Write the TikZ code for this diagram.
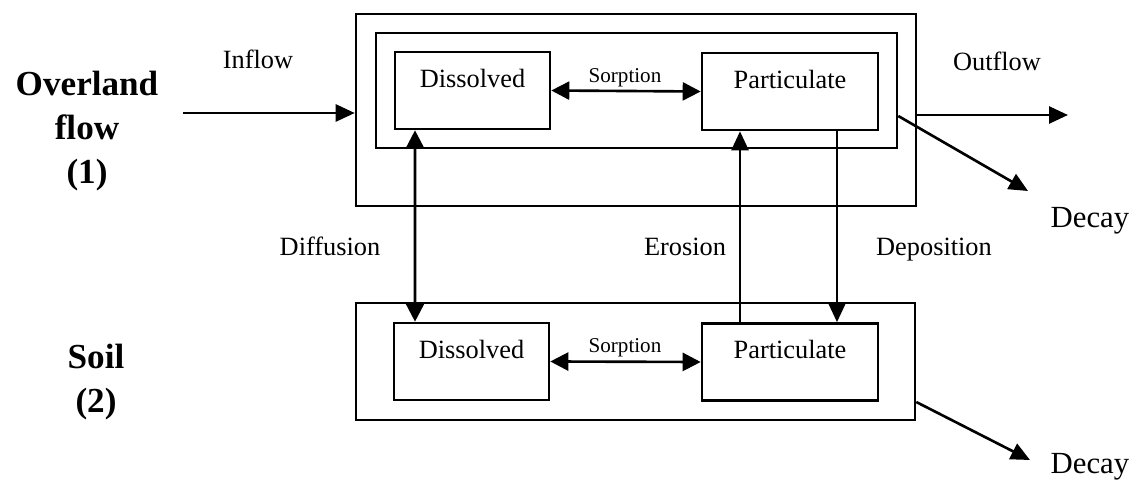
\documentclass[tikz,border=0pt]{standalone}
\usepackage{fontspec}
\setmainfont{Liberation Serif}
\usetikzlibrary{arrows.meta,positioning}

\begin{document}
\begin{tikzpicture}[x=0.02cm, y=-0.02cm,
  comp/.style  = {draw, line width=1.5pt, inner sep=0pt},
  box/.style   = {comp, text height=0.71cm, text depth=0.83cm,
                  font=\fontsize{15}{18}\selectfont},
  arr/.style   = {-{Triangle[length=0.38cm, width=0.34cm]}, line width=1.5pt},
  biarr/.style = {{Triangle[length=0.36cm, width=0.36cm]}-{Triangle[length=0.36cm, width=0.36cm]},
                  line width=1.5pt},
  lab/.style   = {font=\fontsize{15}{18}\selectfont, inner sep=0pt,
                  text height=1.5ex, text depth=.25ex},
  sorp/.style  = {font=\fontsize{12}{14}\selectfont, inner sep=0pt,
                  text height=1.5ex, text depth=.25ex},
  decay/.style = {font=\fontsize{17.5}{20}\selectfont, inner sep=0pt,
                  text height=1.5ex, text depth=.25ex},
  layer/.style = {font=\fontsize{20}{25}\selectfont\bfseries, align=center, inner sep=0pt}
]
\useasboundingbox (0,0) rectangle (1134,486);

%% ---- overland flow compartment ---------------------------------------
\node[comp, minimum width=11.2cm, minimum height=3.84cm] (ow) at (636,110) {};
\node[comp, minimum width=10.42cm, minimum height=2.3cm] (iw) at (636.5,90.5) {};
\node[box, minimum width=3.1cm]  (d1) at (472.5,90.5) {Dissolved};
\node[box, minimum width=3.52cm] (p1) at (790,91.5) {Particulate};

%% ---- soil compartment ------------------------------------------------
\node[comp, minimum width=11.18cm, minimum height=2.34cm] (os) at (635.5,361.5) {};
\node[box, minimum width=3.1cm]  (d2) at (471.5,361.5) {Dissolved};
\node[box, minimum width=3.52cm] (p2) at (790,362) {Particulate};

%% ---- layer names -----------------------------------------------------
\node[layer] (l1) at (87,131) {Overland\\flow\\(1)};
\node[layer] (l2) at (96,382) {Soil\\(2)};

%% ---- fluxes ----------------------------------------------------------
\coordinate (in)   at (183,113);
\coordinate (out)  at (1068,115);
\coordinate (dec1) at (1028,191);
\coordinate (dec2) at (1030,460);

\draw[arr] (in) -- (in -| ow.west);
\draw[arr] (out -| ow.east) -- (out);
\draw[arr] ([yshift=-0.51cm]iw.east) -- (dec1);
\draw[arr] ([yshift=-0.81cm]os.east) -- (dec2);

\draw[biarr] (d1.east) -- (p1.west);
\draw[biarr] (d2.east) -- (p2.west);

\draw[biarr] ([xshift=-1.15cm]d1.south) -- ([xshift=-1.13cm]d2.north);
\draw[arr] ([xshift=-1cm]p2.north) -- ([xshift=-1cm]p1.south);
\draw[arr] ([xshift=0.94cm]p1.south) -- ([xshift=0.94cm]p2.north);

%% ---- labels ----------------------------------------------------------
\node[lab]   (tin)  at (258,63)   {Inflow};
\node[lab]   (tout) at (997,65)   {Outflow};
\node[sorp]  (ts1)  at (625,77)   {Sorption};
\node[sorp]  (ts2)  at (625,347)  {Sorption};
\node[lab]   (tdif) at (330,250)  {Diffusion};
\node[lab]   (tero) at (685,250)  {Erosion};
\node[lab]   (tdep) at (934,250)  {Deposition};
\node[decay] (tdc1) at (1090,222) {Decay};
\node[decay] (tdc2) at (1090,468) {Decay};
\end{tikzpicture}
\end{document}
